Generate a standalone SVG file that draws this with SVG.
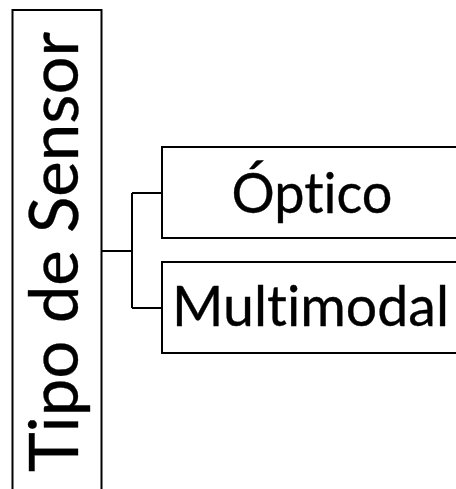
<svg xmlns="http://www.w3.org/2000/svg" width="456" height="489" viewBox="0 0 456 489">
  <style>
    .box { fill: #ffffff; stroke: #000000; stroke-width: 2; }
    .link { fill: none; stroke: #000000; stroke-width: 2; }
    .label { font-family: Lato, "Liberation Sans", sans-serif; fill: #000000; stroke: #000000; stroke-width: 0.35; font-variant-ligatures: none; font-feature-settings: "liga" 0, "clig" 0; }
  </style>
  <rect width="456" height="489" fill="#ffffff"/>
  <g id="root">
    <rect class="box" x="12.5" y="10" width="89" height="500"/>
    <text class="label" font-size="67" text-anchor="middle" transform="translate(78 252) rotate(-90)" textLength="440" lengthAdjust="spacingAndGlyphs">Tipo de Sensor</text>
  </g>
  <g id="connectors">
    <path class="link" d="M101.5 251 H132 M132 193 V308 M132 193 H162 M132 308 H162"/>
  </g>
  <g id="optico">
    <rect class="box" x="162" y="147" width="310" height="91"/>
    <text class="label" font-size="56" text-anchor="middle" x="312" y="213" textLength="161" lengthAdjust="spacingAndGlyphs">Óptico</text>
  </g>
  <g id="multimodal">
    <rect class="box" x="162" y="262" width="310" height="91"/>
    <text class="label" font-size="57" x="172" y="326" textLength="277" lengthAdjust="spacingAndGlyphs">Multimodal</text>
  </g>
</svg>
